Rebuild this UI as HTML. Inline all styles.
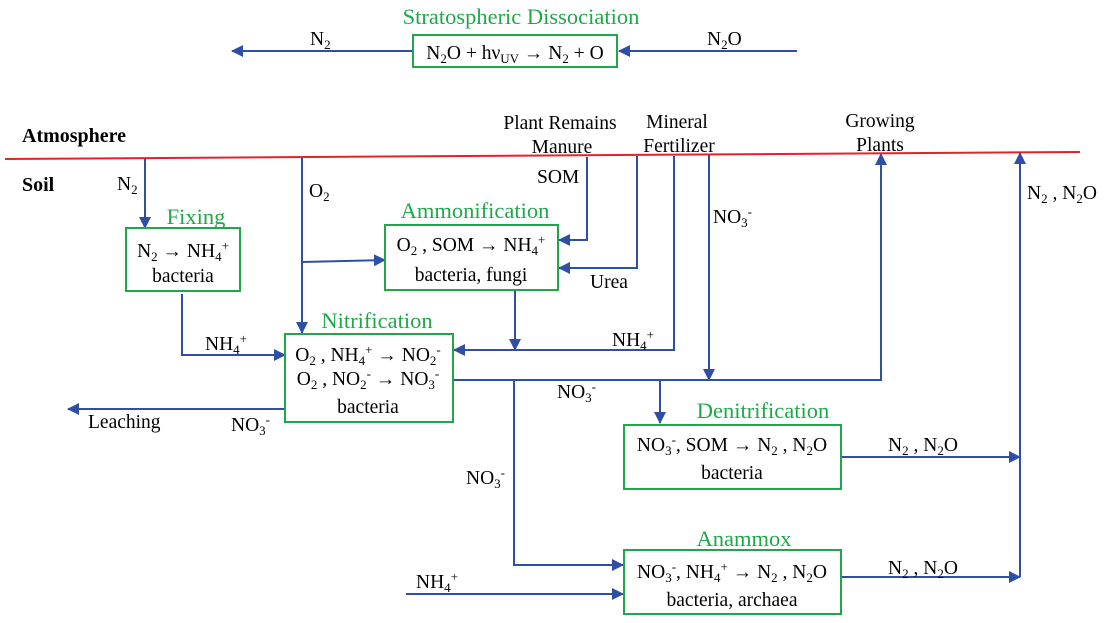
<!DOCTYPE html>
<html><head><meta charset="utf-8"><style>
html,body{margin:0;padding:0;background:#fff}
svg{display:block}
text{font-family:"Liberation Serif",serif;font-size:19.5px;fill:#000}
.t{fill:#1fa84a;font-size:22.5px}
.b{font-family:"Liberation Serif",serif;font-weight:bold;font-size:20px}
.s{font-size:13px}
</style></head><body>
<svg width="1107" height="623" viewBox="0 0 1107 623" xmlns="http://www.w3.org/2000/svg">
<defs><marker id="a" markerWidth="12" markerHeight="12" refX="11" refY="6" orient="auto" markerUnits="userSpaceOnUse"><path d="M0,0 L12,6 L0,12 z" fill="#2e4fa3"/></marker></defs>
<g fill="none" stroke="#2e4fa3" stroke-width="2">
<line x1="412" y1="51" x2="232" y2="51" marker-end="url(#a)"/>
<line x1="797" y1="51" x2="619" y2="51" marker-end="url(#a)"/>
<line x1="145" y1="159" x2="145" y2="228" marker-end="url(#a)"/>
<line x1="302" y1="157" x2="302" y2="333" marker-end="url(#a)"/>
<line x1="302" y1="262" x2="385" y2="260" marker-end="url(#a)"/>
<polyline points="587,157 587,240 559,240" marker-end="url(#a)"/>
<polyline points="637,156 637,268 559,268" marker-end="url(#a)"/>
<polyline points="674,156 674,350 454,350" marker-end="url(#a)"/>
<line x1="515" y1="290" x2="515" y2="350" marker-end="url(#a)"/>
<line x1="709" y1="155" x2="709" y2="380" marker-end="url(#a)"/>
<polyline points="182,294 182,355 285,355" marker-end="url(#a)"/>
<polyline points="453,380 881,380 881,154" marker-end="url(#a)"/>
<line x1="660" y1="380" x2="660" y2="423" marker-end="url(#a)"/>
<line x1="285" y1="409" x2="68" y2="409" marker-end="url(#a)"/>
<polyline points="514,380 514,565 623,565" marker-end="url(#a)"/>
<line x1="406" y1="594" x2="623" y2="594" marker-end="url(#a)"/>
<line x1="841" y1="457" x2="1020" y2="457" marker-end="url(#a)"/>
<line x1="841" y1="577" x2="1020" y2="577" marker-end="url(#a)"/>
<line x1="1020" y1="577" x2="1020" y2="153" marker-end="url(#a)"/>
</g>
<line x1="5" y1="159" x2="1080" y2="152" stroke="#e8202a" stroke-width="2"/>
<g fill="#fff" stroke="#1fa84a" stroke-width="2">
<rect x="413" y="35" width="204" height="32"/>
<rect x="126" y="228" width="114" height="63"/>
<rect x="385" y="225" width="173" height="65"/>
<rect x="285" y="334" width="168" height="88"/>
<rect x="624" y="425" width="217" height="64"/>
<rect x="624" y="550" width="217" height="64"/>
</g>
<text class="t" x="521" y="24" text-anchor="middle">Stratospheric Dissociation</text>
<text x="515" y="59" text-anchor="middle">N<tspan class="s" dy="4">2</tspan><tspan dy="-4">O + hν</tspan><tspan class="s" dy="4">UV</tspan><tspan dy="-4"> → N</tspan><tspan class="s" dy="4">2</tspan><tspan dy="-4"> + O</tspan></text>
<text x="310" y="45">N<tspan class="s" dy="4">2</tspan></text>
<text x="707" y="45">N<tspan class="s" dy="4">2</tspan><tspan dy="-4">O</tspan></text>
<text class="b" x="22" y="142">Atmosphere</text>
<text class="b" x="22" y="191">Soil</text>
<text x="117" y="190">N<tspan class="s" dy="4">2</tspan></text>
<text x="309" y="197">O<tspan class="s" dy="4">2</tspan></text>
<text class="t" x="196" y="224" text-anchor="middle">Fixing</text>
<text x="183" y="257" text-anchor="middle">N<tspan class="s" dy="4">2</tspan><tspan dy="-4"> → NH</tspan><tspan class="s" dy="4">4</tspan><tspan class="s" dy="-11">+</tspan></text>
<text x="183" y="282" text-anchor="middle">bacteria</text>
<text x="560" y="129" text-anchor="middle">Plant Remains</text>
<text x="562" y="153" text-anchor="middle">Manure</text>
<text x="537" y="183">SOM</text>
<text x="677" y="128" text-anchor="middle">Mineral</text>
<text x="679" y="152" text-anchor="middle">Fertilizer</text>
<text x="880" y="127" text-anchor="middle">Growing</text>
<text x="880" y="151" text-anchor="middle">Plants</text>
<text x="713" y="223">NO<tspan class="s" dy="4">3</tspan><tspan class="s" dy="-11">-</tspan></text>
<text x="1027" y="199">N<tspan class="s" dy="4">2</tspan><tspan dy="-4"> , N</tspan><tspan class="s" dy="4">2</tspan><tspan dy="-4">O</tspan></text>
<text class="t" x="475" y="218" text-anchor="middle">Ammonification</text>
<text x="471" y="251" text-anchor="middle">O<tspan class="s" dy="4">2</tspan><tspan dy="-4"> , SOM → NH</tspan><tspan class="s" dy="4">4</tspan><tspan class="s" dy="-11">+</tspan></text>
<text x="471" y="281" text-anchor="middle">bacteria, fungi</text>
<text x="590" y="288">Urea</text>
<text x="612" y="346">NH<tspan class="s" dy="4">4</tspan><tspan class="s" dy="-11">+</tspan></text>
<text x="205" y="350">NH<tspan class="s" dy="4">4</tspan><tspan class="s" dy="-11">+</tspan></text>
<text class="t" x="377" y="328" text-anchor="middle">Nitrification</text>
<text x="368" y="361" text-anchor="middle">O<tspan class="s" dy="4">2</tspan><tspan dy="-4"> , NH</tspan><tspan class="s" dy="4">4</tspan><tspan class="s" dy="-11">+</tspan><tspan dy="7"> → NO</tspan><tspan class="s" dy="4">2</tspan><tspan class="s" dy="-11">-</tspan></text>
<text x="368" y="385" text-anchor="middle">O<tspan class="s" dy="4">2</tspan><tspan dy="-4"> , NO</tspan><tspan class="s" dy="4">2</tspan><tspan class="s" dy="-11">-</tspan><tspan dy="7"> → NO</tspan><tspan class="s" dy="4">3</tspan><tspan class="s" dy="-11">-</tspan></text>
<text x="368" y="413" text-anchor="middle">bacteria</text>
<text x="88" y="428">Leaching</text>
<text x="231" y="431">NO<tspan class="s" dy="4">3</tspan><tspan class="s" dy="-11">-</tspan></text>
<text x="557" y="398">NO<tspan class="s" dy="4">3</tspan><tspan class="s" dy="-11">-</tspan></text>
<text x="466" y="484">NO<tspan class="s" dy="4">3</tspan><tspan class="s" dy="-11">-</tspan></text>
<text class="t" x="763" y="418" text-anchor="middle">Denitrification</text>
<text x="732" y="451" text-anchor="middle">NO<tspan class="s" dy="4">3</tspan><tspan class="s" dy="-11">-</tspan><tspan dy="7">, SOM → N</tspan><tspan class="s" dy="4">2</tspan><tspan dy="-4"> , N</tspan><tspan class="s" dy="4">2</tspan><tspan dy="-4">O</tspan></text>
<text x="732" y="479" text-anchor="middle">bacteria</text>
<text x="888" y="451">N<tspan class="s" dy="4">2</tspan><tspan dy="-4"> , N</tspan><tspan class="s" dy="4">2</tspan><tspan dy="-4">O</tspan></text>
<text class="t" x="744" y="546" text-anchor="middle">Anammox</text>
<text x="732" y="578" text-anchor="middle">NO<tspan class="s" dy="4">3</tspan><tspan class="s" dy="-11">-</tspan><tspan dy="7">, NH</tspan><tspan class="s" dy="4">4</tspan><tspan class="s" dy="-11">+</tspan><tspan dy="7"> → N</tspan><tspan class="s" dy="4">2</tspan><tspan dy="-4"> , N</tspan><tspan class="s" dy="4">2</tspan><tspan dy="-4">O</tspan></text>
<text x="732" y="606" text-anchor="middle">bacteria, archaea</text>
<text x="888" y="574">N<tspan class="s" dy="4">2</tspan><tspan dy="-4"> , N</tspan><tspan class="s" dy="4">2</tspan><tspan dy="-4">O</tspan></text>
<text x="416" y="588">NH<tspan class="s" dy="4">4</tspan><tspan class="s" dy="-11">+</tspan></text>
</svg>
</body></html>
